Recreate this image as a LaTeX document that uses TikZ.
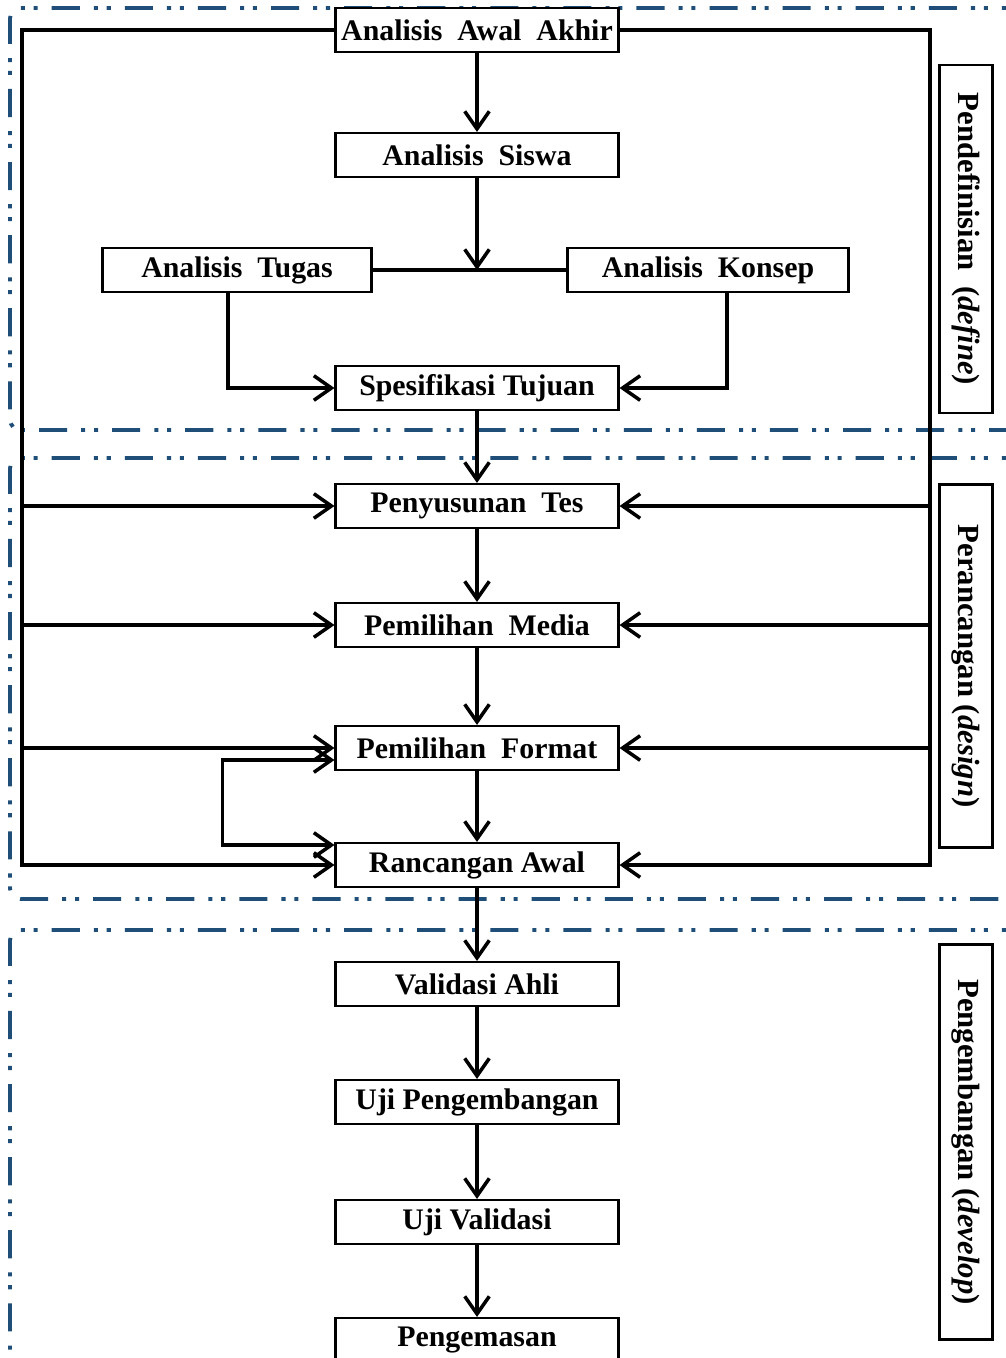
\documentclass[tikz,border=0pt]{standalone}
\usepackage{fontspec}
\setmainfont{Liberation Serif}
\usetikzlibrary{positioning, arrows.meta, calc}
\definecolor{regionblue}{RGB}{31,78,121}

\begin{document}
\begin{tikzpicture}[
        x=0.02cm, y=-0.02cm,
        >={Straight Barb[length=10pt,width=14pt]},
        stepbox/.style={draw, fill=white, line width=1.2pt, minimum width=5.66cm, minimum height=0.88cm, inner sep=2pt, font=\fontsize{17}{19}\selectfont\bfseries},
        phase/.style={draw, fill=white, line width=1.2pt, rotate=-90, minimum height=1.06cm, inner sep=2pt, font=\fontsize{17.5}{19}\selectfont\bfseries},
        region/.style={draw=regionblue, line width=2.2pt, rounded corners=6pt, dash pattern=on 16pt off 8pt on 2.3pt off 5pt on 2.3pt off 8pt},
        flow/.style={->, line width=2pt},
    ]
    \useasboundingbox (0,0) rectangle (1006,1358);
    \clip (0,0) rectangle (1006,1358);

        % Draw the dash-dot regions of the three stages
        \draw[region] (1030,8) -- (10,8) -- (10,430) -- (1030,430);
        \draw[region] (1030,458) -- (10,458) -- (10,899) -- (1030,899);
        \draw[region] (1030,930) -- (10,930) -- (10,1420);

        % Draw the define stage nodes
        \node[stepbox] (awal) at (477,30) {Analisis \ Awal \ Akhir};
        \node[stepbox] (siswa) at (477,155) {Analisis \ Siswa};
        \node[stepbox, minimum width=5.38cm] (tugas) at (237,270) {Analisis \ Tugas};
        \node[stepbox, minimum width=5.62cm] (konsep) at (708,270) {Analisis \ Konsep};
        \node[stepbox] (spes) at (477,388) {Spesifikasi Tujuan};

        % Draw the design stage nodes
        \node[stepbox] (tes) at (477,506) {Penyusunan \ Tes};
        \node[stepbox] (media) at (477,625) {Pemilihan \ Media};
        \node[stepbox] (format) at (477,748) {Pemilihan \ Format};
        \node[stepbox] (rancangan) at (477,865) {Rancangan Awal};

        % Draw the develop stage nodes
        \node[stepbox] (validasi) at (477,984) {Validasi Ahli};
        \node[stepbox] (ujikembang) at (477,1102) {Uji Pengembangan};
        \node[stepbox] (ujivalid) at (477,1222) {Uji Validasi};
        \node[stepbox] (kemas) at (477,1340) {Pengemasan};

        % Stage labels on the right
        \node[phase, minimum width=6.96cm] (define) at (966,239) {Pendefinisian \ (\textit{define})};
        \node[phase, minimum width=7.26cm] (design) at (966,666) {Perancangan (\textit{design})};
        \node[phase, minimum width=7.90cm] (develop) at (966,1142) {Pengembangan (\textit{develop})};

        % Main flow down the middle
        \foreach \source/\dest in {awal/siswa, spes/tes, tes/media, media/format, format/rancangan, rancangan/validasi, validasi/ujikembang, ujikembang/ujivalid, ujivalid/kemas}
            \draw[flow] (\source) -- (\dest);

        % Split into task and concept analysis
        \draw[line width=2pt] (tugas.east) -- (konsep.west);
        \draw[flow] (siswa.south) -- (siswa.south |- tugas.east);
        \draw[flow] ([xshift=-0.18cm]tugas.south) |- (spes.west);
        \draw[flow] ([xshift=0.38cm]konsep.south) |- (spes.east);

        % Outer frame feeding every design step
        \coordinate (frameL) at (22,30);
        \coordinate (frameR) at (930,30);
        \draw[flow] (awal.west) -| (frameL |- rancangan.west) -- (rancangan.west);
        \draw[flow] (awal.east) -| (frameR |- rancangan.east) -- (rancangan.east);
        \foreach \name in {tes, media, format} {
            \draw[flow] (frameL |- \name.west) -- (\name.west);
            \draw[flow] (frameR |- \name.east) -- (\name.east);
        }

        % Loop between format and first design
        \draw[flow, <->] ($(format.west)+(0,12)$) -| ($(rancangan.west)+(-112,-20)$) -- ($(rancangan.west)+(0,-20)$);
    \end{tikzpicture}
\end{document}
